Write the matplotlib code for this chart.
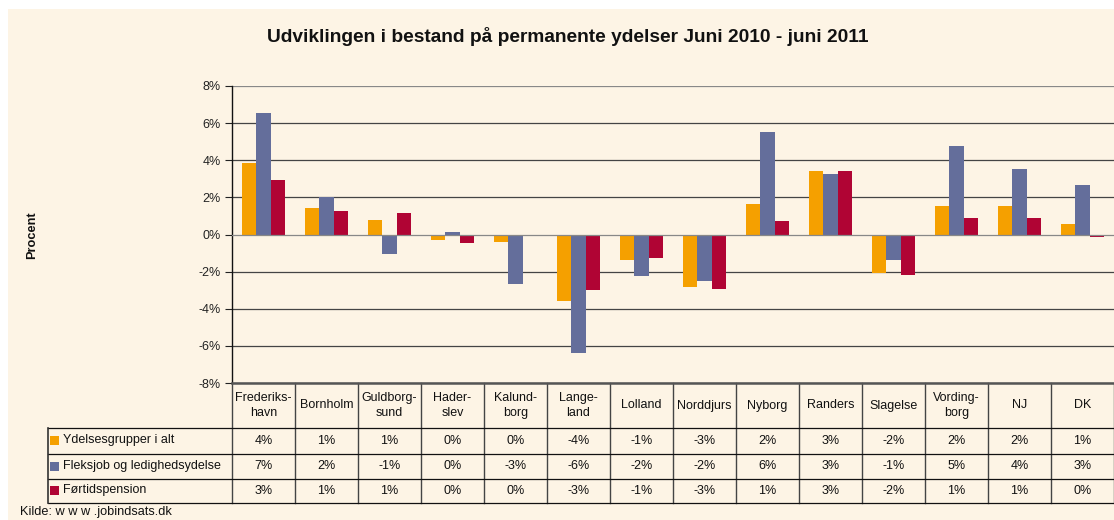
import matplotlib
matplotlib.use("Agg")
import matplotlib.pyplot as plt
import numpy as np
from matplotlib.transforms import blended_transform_factory
from matplotlib.lines import Line2D
from matplotlib.patches import Rectangle

plt.rcParams['font.family'] = ['Liberation Sans', 'DejaVu Sans']

categories = ["Frederiks-\nhavn", "Bornholm", "Guldborg-\nsund", "Hader-\nslev", "Kalund-\nborg",
              "Lange-\nland", "Lolland", "Norddjurs", "Nyborg", "Randers", "Slagelse",
              "Vording-\nborg", "NJ", "DK"]
series_names = ["Ydelsesgrupper i alt", "Fleksjob og ledighedsydelse", "Førtidspension"]
ydelser = [3.86, 1.45, 0.80, -0.27, -0.38, -3.58, -1.40, -2.84, 1.66, 3.43, -2.09, 1.56, 1.56, 0.54]
fleksjob = [6.55, 2.02, -1.06, 0.11, -2.68, -6.39, -2.25, -2.49, 5.53, 3.27, -1.40, 4.78, 3.54, 2.68]
foertid = [2.95, 1.29, 1.18, -0.48, 0.0, -3.00, -1.29, -2.95, 0.75, 3.43, -2.20, 0.91, 0.91, -0.11]
yticks = [-8, -6, -4, -2, 0, 2, 4, 6, 8]

colors = ["#F5A000", "#646E9B", "#B00434"]
bg = "#FDF4E5"

W, H = 1114, 520
fig = plt.figure(figsize=(W / 100, H / 100), dpi=100, facecolor="white")
fig.patches.append(Rectangle((8 / W, 0), 1 - 8 / W, 1 - 9 / H, transform=fig.transFigure,
                             facecolor=bg, edgecolor="none", zorder=-10))

def fx(p):
    return p / W

def fy(p):
    return 1 - p / H

FS = 9.0

ax_left, ax_right, ax_top, ax_bot = 232, 1114, 86, 383
ax = fig.add_axes([fx(ax_left), fy(ax_bot), fx(ax_right - ax_left), (ax_bot - ax_top) / H])
ax.set_facecolor(bg)

x = np.arange(len(categories))
bw = 0.227
for k, (vals, col) in enumerate(zip([ydelser, fleksjob, foertid], colors)):
    ax.bar(x + (k - 1) * bw, vals, width=bw, color=col, zorder=3, linewidth=0)

ax.set_xlim(-0.5, len(categories) - 0.5)
ax.set_ylim(-8, 8)
ax.set_yticks(yticks)
ax.set_yticklabels([f"{t}%" for t in yticks], fontsize=FS)
ax.tick_params(axis='y', direction='out', length=5, width=0.8, color="#222222", pad=3,
               labelcolor="#222222")
ax.set_xticks([])
for t in yticks:
    col = "#888888" if t in (8, 0) else "#444444"
    ax.axhline(t, color=col, linewidth=0.9, zorder=1 if t != 0 else 4)
for s in ["top", "right", "bottom"]:
    ax.spines[s].set_visible(False)
ax.spines["left"].set_color("#111111")
ax.spines["left"].set_linewidth(1.0)

# Title, y-label, source
fig.text(fx(567.5), fy(37), "Udviklingen i bestand på permanente ydelser Juni 2010 - juni 2011",
         ha="center", va="center", fontsize=13.8, fontweight="bold", color="#111111")
fig.text(fx(32), fy(235), "Procent", rotation=90, ha="center", va="center",
         fontsize=9.2, fontweight="bold", color="#111111")
fig.text(fx(20), fy(512), "Kilde: w w w .jobindsats.dk", ha="left", va="center",
         fontsize=9.2, color="#111111")

# Data table below the axes
tr = blended_transform_factory(ax.transData, fig.transFigure)
row_edges = [383, 428, 454, 479, 503]
legend_left = 47.5

fig.add_artist(Line2D([fx(ax_left), fx(ax_right)], [fy(383), fy(383)], color="#555555", lw=1.8))
for yy in row_edges[1:]:
    fig.add_artist(Line2D([fx(legend_left), fx(ax_right)], [fy(yy), fy(yy)], color="#111111", lw=0.9))
fig.add_artist(Line2D([fx(legend_left), fx(legend_left)], [fy(428), fy(503)], color="#333333", lw=1.2))
for i in range(len(categories) + 1):
    xx = i - 0.5
    ax.add_line(Line2D([xx, xx], [fy(383), fy(503)], transform=tr, color="#444444",
                       lw=1.0, clip_on=False))

for i, c in enumerate(categories):
    ax.text(i, fy((row_edges[0] + row_edges[1]) / 2), c, transform=tr, ha="center", va="center",
            fontsize=FS, color="#111111", linespacing=1.35, clip_on=False)

for r, (name, vals, col) in enumerate(zip(series_names, [ydelser, fleksjob, foertid], colors)):
    yc = (row_edges[r + 1] + row_edges[r + 2]) / 2 - 0.5
    fig.patches.append(Rectangle((fx(50), fy(yc + 4.5)), 9 / W, 9 / H, transform=fig.transFigure,
                                 facecolor=col, edgecolor="none"))
    fig.text(fx(63), fy(yc), name, ha="left", va="center", fontsize=FS, color="#111111")
    for i, v in enumerate(vals):
        ax.text(i, fy(yc), f"{int(round(v))}%", transform=tr, ha="center", va="center",
                fontsize=FS, color="#111111", clip_on=False)

fig.savefig("out.png", dpi=100, facecolor=fig.get_facecolor())
